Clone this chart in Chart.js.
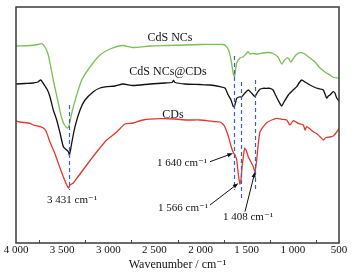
<!DOCTYPE html>
<html>
<head>
<meta charset="utf-8">
<script src="https://cdn.jsdelivr.net/npm/chart.js@4.4.1/dist/chart.umd.min.js"></script>
<style>
  html, body { margin: 0; padding: 0; background: #fff; }
  #wrap { width: 354px; height: 278px; }
</style>
</head>
<body>
<div id="wrap"><canvas id="ftir-chart" width="354" height="278"></canvas></div>
<script>
// wavenumber (cm-1) and relative transmittance (arb. units)
const cdsNcsWave = [4000, 3848, 3762, 3722, 3686, 3650, 3596, 3542, 3505, 3469, 3442, 3426, 3396, 3342, 3288, 3198, 3090, 2981, 2841, 2732, 2548, 2364, 2169, 2006, 1844, 1757, 1725, 1697, 1670, 1643, 1632, 1608, 1573, 1537, 1508, 1486, 1464, 1432, 1378, 1324, 1269, 1215, 1161, 1121, 1096, 1067, 1042, 1023, 998, 966, 923, 879, 814, 760, 706, 652, 598, 555, 500];
const cdsNcsVal = [197, 197.5, 198.5, 199.3, 196, 188, 163, 140, 125, 117, 115, 117, 130, 148, 163, 176, 188, 194, 197.5, 195.5, 197, 197.5, 198, 198.5, 198.7, 198.5, 197, 193, 183, 168, 166.5, 180, 185, 186.3, 189, 191.3, 189, 189.5, 189, 190, 190.5, 189.5, 186, 179, 182, 185, 184, 181, 184, 188, 190.3, 189.5, 185, 181, 175, 171, 168, 165.5, 165];

const compositeWave = [4000, 3902, 3816, 3762, 3732, 3707, 3686, 3659, 3632, 3596, 3559, 3523, 3487, 3451, 3431, 3422, 3409, 3396, 3361, 3306, 3252, 3162, 3090, 3017, 2927, 2841, 2732, 2548, 2385, 2310, 2293, 2277, 2169, 2006, 1898, 1790, 1736, 1700, 1670, 1645, 1632, 1608, 1584, 1555, 1519, 1483, 1446, 1410, 1388, 1356, 1324, 1283, 1248, 1215, 1193, 1161, 1121, 1096, 1049, 998, 958, 933, 904, 868, 814, 760, 706, 670, 634, 615, 598, 562, 544, 525, 500];
const compositeVal = [159, 159.5, 160, 161, 163, 160, 157, 153, 146.3, 133, 123, 110, 96.3, 93, 91, 88, 93, 100, 116.3, 133, 143, 151.3, 155, 156.3, 157, 159, 157.5, 159, 160, 160.5, 162.5, 160.5, 159, 158.5, 158, 156.3, 155, 148, 143, 136.3, 137, 144.7, 146, 146.3, 150, 153, 149.7, 146.5, 150, 153.7, 154.7, 154.7, 154.7, 153, 149, 143, 137, 141, 148, 153, 156.3, 160, 163, 161, 158, 155.5, 154, 153, 145, 147, 148, 151.3, 150, 145, 142];

const cdsWave = [4000, 3957, 3848, 3813, 3740, 3704, 3675, 3632, 3577, 3523, 3469, 3431, 3415, 3379, 3339, 3306, 3234, 3126, 3017, 2909, 2819, 2732, 2624, 2440, 2277, 2150, 2006, 1865, 1790, 1754, 1736, 1700, 1664, 1642, 1627, 1608, 1594, 1574, 1564, 1548, 1523, 1508, 1483, 1454, 1429, 1410, 1392, 1374, 1356, 1320, 1280, 1229, 1175, 1121, 1067, 1031, 995, 941, 887, 868, 850, 814, 778, 738, 706, 670, 641, 598, 562, 525, 500];
const cdsVal = [122, 121, 119.7, 118, 116.3, 115, 112, 101, 89, 75, 62, 55, 58, 60, 65, 69, 78, 91, 103, 111, 119, 120, 123, 124.3, 124, 123, 123, 121.5, 121, 118.5, 116, 107, 95, 90, 88, 83, 71, 59, 62, 78, 94.7, 93, 86.3, 81, 76.3, 71.3, 83, 99.7, 111, 116.3, 120.5, 123, 124.7, 123.7, 123, 118, 122.3, 119.7, 118, 113, 116.3, 114, 111.3, 109, 106.3, 103, 105.5, 106, 107, 111, 114.7];

const seriesNames = ['CdS NCs', 'CdS NCs@CDs', 'CDs'];
const seriesColors = ['#7cbf55', '#111111', '#e0382c'];
const seriesLabelPos = [[2331, 204.7], [2353, 171.3], [2299, 128]];

const xTickValues = [4000, 3500, 3000, 2500, 2000, 1500, 1000, 500];
const minorTickValues = [3750, 3250, 2750, 2250, 1750, 1250, 750];

// marked bands: wavenumber, dashed line top and bottom
const bandWave = [3431, 1640, 1566, 1408];
const bandTop = [138, 187, 161, 163];
const bandBottom = [53, 53, 45, 53];

const noteText = ['3 431 cm⁻¹', '1 640 cm⁻¹', '1 566 cm⁻¹', '1 408 cm⁻¹'];
const notePos = [[3393, 43], [2201, 80], [2190, 35.3], [1486, 26]];
const arrowFrom = [null, [1898, 81.3], [1898, 38], [1519, 31.3]];
const arrowTo = [null, [1649, 89.7], [1591, 59.7], [1410, 71.3]];

const serif = '"Liberation Serif", "DejaVu Serif", serif';

function toPoints(wave, val) {
  return wave.map((w, i) => ({ x: w, y: val[i] }));
}

function spaced(v) {
  return String(v).replace(/\B(?=(\d{3})+(?!\d))/g, ' ');
}

const decorations = {
  id: 'decorations',
  afterDatasetsDraw(chart) {
    const { ctx, chartArea, scales } = chart;
    const x = scales.x;
    const y = scales.y;
    ctx.save();

    // dashed band markers
    ctx.strokeStyle = '#3b5fc0';
    ctx.lineWidth = 1.2;
    ctx.setLineDash([4, 3]);
    bandWave.forEach((w, i) => {
      const px = Math.round(x.getPixelForValue(w)) + 0.5;
      ctx.beginPath();
      ctx.moveTo(px, y.getPixelForValue(bandTop[i]));
      ctx.lineTo(px, y.getPixelForValue(bandBottom[i]));
      ctx.stroke();
    });
    ctx.setLineDash([]);

    // series names
    ctx.fillStyle = '#111';
    ctx.font = '12px ' + serif;
    ctx.textAlign = 'center';
    ctx.textBaseline = 'middle';
    seriesNames.forEach((name, i) => {
      const p = seriesLabelPos[i];
      ctx.fillText(name, x.getPixelForValue(p[0]), y.getPixelForValue(p[1]));
    });

    // peak notes
    ctx.font = '11px ' + serif;
    noteText.forEach((t, i) => {
      const p = notePos[i];
      ctx.fillText(t, x.getPixelForValue(p[0]), y.getPixelForValue(p[1]));
    });

    // arrows
    ctx.strokeStyle = '#111';
    ctx.fillStyle = '#111';
    ctx.lineWidth = 1;
    arrowFrom.forEach((from, i) => {
      if (!from) {
        return;
      }
      const x0 = x.getPixelForValue(from[0]);
      const y0 = y.getPixelForValue(from[1]);
      const x1 = x.getPixelForValue(arrowTo[i][0]);
      const y1 = y.getPixelForValue(arrowTo[i][1]);
      const a = Math.atan2(y1 - y0, x1 - x0);
      const len = 6;
      ctx.beginPath();
      ctx.moveTo(x0, y0);
      ctx.lineTo(x1 - Math.cos(a) * len * 0.8, y1 - Math.sin(a) * len * 0.8);
      ctx.stroke();
      ctx.beginPath();
      ctx.moveTo(x1, y1);
      ctx.lineTo(x1 - len * Math.cos(a - 0.35), y1 - len * Math.sin(a - 0.35));
      ctx.lineTo(x1 - len * Math.cos(a + 0.35), y1 - len * Math.sin(a + 0.35));
      ctx.closePath();
      ctx.fill();
    });

    // inside minor ticks
    ctx.strokeStyle = '#444';
    ctx.lineWidth = 1;
    minorTickValues.forEach((w) => {
      const px = Math.round(x.getPixelForValue(w)) + 0.5;
      ctx.beginPath();
      ctx.moveTo(px, chartArea.bottom);
      ctx.lineTo(px, chartArea.bottom - 3);
      ctx.stroke();
    });

    // frame
    ctx.strokeStyle = '#3a3a3a';
    ctx.lineWidth = 1.5;
    ctx.strokeRect(chartArea.left, chartArea.top, chartArea.right - chartArea.left, chartArea.bottom - chartArea.top);
    ctx.restore();
  },
};

const series = [
  toPoints(cdsNcsWave, cdsNcsVal),
  toPoints(compositeWave, compositeVal),
  toPoints(cdsWave, cdsVal),
];

new Chart(document.getElementById('ftir-chart').getContext('2d'), {
  type: 'line',
  data: {
    datasets: series.map((pts, i) => ({
      label: seriesNames[i],
      data: pts,
      borderColor: seriesColors[i],
      borderWidth: 1.3,
      pointRadius: 0,
      tension: 0.2,
      fill: false,
    })),
  },
  options: {
    responsive: false,
    animation: false,
    devicePixelRatio: 1,
    layout: { padding: { left: 16, right: 15, top: 7, bottom: 0 } },
    plugins: {
      legend: { display: false },
      tooltip: { enabled: false },
    },
    scales: {
      x: {
        type: 'linear',
        reverse: true,
        min: 500,
        max: 4000,
        afterBuildTicks: (scale) => {
          scale.ticks = xTickValues.map((v) => ({ value: v }));
        },
        afterFit: (scale) => {
          scale.height = 35;
        },
        grid: { display: false, drawTicks: false },
        border: { display: false },
        ticks: {
          color: '#111',
          padding: 1,
          maxRotation: 0,
          autoSkip: false,
          font: { family: serif, size: 11 },
          callback: (v) => spaced(v),
        },
        title: {
          display: true,
          text: 'Wavenumber / cm⁻¹',
          color: '#111',
          padding: { top: 0, bottom: 6 },
          font: { family: serif, size: 12 },
        },
      },
      y: {
        display: false,
        min: 0,
        max: 236,
      },
    },
  },
  plugins: [decorations],
});
</script>
</body>
</html>
